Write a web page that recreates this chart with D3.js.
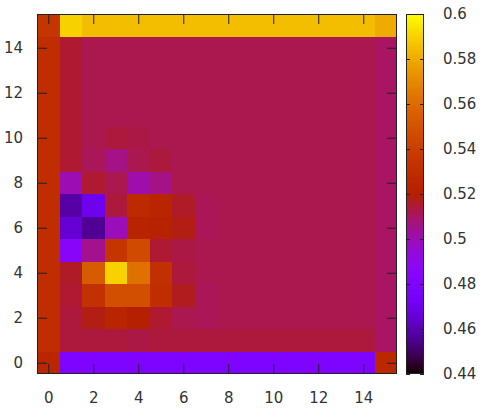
<!DOCTYPE html>
<html><head><meta charset="utf-8">
<script src="https://cdn.jsdelivr.net/npm/d3@7"></script>
<style>body{margin:0;background:#fff}svg{display:block}text{font-family:"DejaVu Sans",sans-serif;font-size:15px;fill:#333}</style>
</head><body>
<svg id="c" width="487" height="415"></svg>
<script>
const xs = d3.range(16);
const ys = d3.range(16);
const B = 0.512;
const row0  = [0.525,0.48,0.48,0.48,0.48,0.48,0.48,0.48,0.48,0.48,0.48,0.48,0.48,0.48,0.48,0.526];
const row1  = [0.530,0.514,0.514,0.514,0.513,0.514,0.514,0.514,0.514,0.514,0.514,0.514,0.514,0.514,0.514,0.510];
const row2  = [0.530,0.514,0.518,0.524,0.520,0.515,0.512,0.511,B,B,B,B,B,B,B,0.510];
const row3  = [0.530,0.515,0.533,0.548,0.548,0.530,0.517,0.511,B,B,B,B,B,B,B,0.510];
const row4  = [0.530,0.516,0.554,0.590,0.562,0.532,0.514,0.512,B,B,B,B,B,B,B,0.510];
const row5  = [0.530,0.485,0.505,0.535,0.546,0.515,0.513,0.512,B,B,B,B,B,B,B,0.510];
const row6  = [0.530,0.465,0.456,0.499,0.523,0.522,0.518,0.511,B,B,B,B,B,B,B,0.510];
const row7  = [0.530,0.458,0.470,0.514,0.528,0.524,0.516,0.511,B,B,B,B,B,B,B,0.510];
const row8  = [0.530,0.500,0.515,0.512,0.501,0.506,0.512,0.512,B,B,B,B,B,B,B,0.510];
const row9  = [0.530,0.515,0.511,0.506,0.512,0.514,0.512,B,B,B,B,B,B,B,B,0.510];
const row10 = [0.530,0.515,0.512,0.514,0.513,0.512,B,B,B,B,B,B,B,B,B,0.510];
const row11 = [0.530,0.515,B,B,B,B,B,B,B,B,B,B,B,B,B,0.510];
const row12 = [0.530,0.515,B,B,B,B,B,B,B,B,B,B,B,B,B,0.510];
const row13 = [0.530,0.515,B,B,B,B,B,B,B,B,B,B,B,B,B,0.510];
const row14 = [0.530,0.515,B,B,B,B,B,B,B,B,B,B,B,B,B,0.510];
const row15 = [0.535,0.590,0.585,0.585,0.585,0.585,0.585,0.585,0.585,0.585,0.585,0.585,0.585,0.585,0.585,0.580];
const rows = [row0,row1,row2,row3,row4,row5,row6,row7,row8,row9,row10,row11,row12,row13,row14,row15];
const xTicks = [0,2,4,6,8,10,12,14];
const yTicks = [0,2,4,6,8,10,12,14];
const cbTicks = [0.44,0.46,0.48,0.5,0.52,0.54,0.56,0.58,0.6];
const cbDomain = [0.44,0.6];

// gnuplot rgbformulae 7,5,15
function gnu(t){
  t = Math.max(0, Math.min(1, t));
  const r = Math.sqrt(t), g = t*t*t, b = Math.max(0, Math.sin(2*Math.PI*t));
  return d3.rgb(Math.round(r*255), Math.round(g*255), Math.round(b*255)).toString();
}
const color = d3.scaleSequential(gnu).domain(cbDomain);

const L=37, R=397, T=14, Bt=374;
const x = d3.scaleLinear().domain([-0.5,15.5]).range([L,R]);
const y = d3.scaleLinear().domain([-0.5,15.5]).range([Bt,T]);
const svg = d3.select("#c");

const cells = [];
ys.forEach(j => xs.forEach(i => cells.push({i, j, v: rows[j][i]})));
svg.append("g").selectAll("rect").data(cells).join("rect")
  .attr("x", d => x(d.i-0.5)).attr("y", d => y(d.j+0.5))
  .attr("width", d => x(d.i+0.5)-x(d.i-0.5)+0.3)
  .attr("height", d => y(d.j-0.5)-y(d.j+0.5)+0.3)
  .attr("fill", d => color(d.v)).attr("shape-rendering","crispEdges");

const tl = 10, stroke = "#222";
// axes
const gb = svg.append("g").attr("transform",`translate(0,${Bt})`)
  .call(d3.axisBottom(x).tickValues(xTicks).tickSize(-tl).tickPadding(18).tickFormat(d3.format("d")));
const gt = svg.append("g").attr("transform",`translate(0,${T})`)
  .call(d3.axisTop(x).tickValues(xTicks).tickSize(-tl).tickFormat(""));
const gl = svg.append("g").attr("transform",`translate(${L},0)`)
  .call(d3.axisLeft(y).tickValues(yTicks).tickSize(-tl).tickPadding(14).tickFormat(d3.format("d")));
const gr = svg.append("g").attr("transform",`translate(${R},0)`)
  .call(d3.axisRight(y).tickValues(yTicks).tickSize(-tl).tickFormat(""));
[gb,gt,gl,gr].forEach(g => {
  g.select(".domain").remove();
  g.selectAll("line").attr("stroke", stroke);
  g.selectAll("text").attr("fill","#333").style("font-size","15px").attr("font-family","DejaVu Sans");
});
svg.append("rect").attr("x",L+0.5).attr("y",T+0.5).attr("width",R-L-1).attr("height",Bt-T-1)
  .attr("fill","none").attr("stroke",stroke);

// colorbar
const CL=406, CR=424;
const cy = d3.scaleLinear().domain(cbDomain).range([Bt,T]);
const defs = svg.append("defs");
const grad = defs.append("linearGradient").attr("id","cb").attr("x1",0).attr("y1",1).attr("x2",0).attr("y2",0);
d3.range(0,1.0001,0.01).forEach(t => grad.append("stop").attr("offset",t)
  .attr("stop-color", color(cbDomain[0]+t*(cbDomain[1]-cbDomain[0]))));
svg.append("rect").attr("x",CL).attr("y",T).attr("width",CR-CL).attr("height",Bt-T).attr("fill","url(#cb)");
const gc = svg.append("g").attr("transform",`translate(${CR},0)`)
  .call(d3.axisRight(cy).tickValues(cbTicks).tickSize(-4).tickPadding(19).tickFormat(d => String(+d.toFixed(2))));
const gc2 = svg.append("g").attr("transform",`translate(${CL},0)`)
  .call(d3.axisLeft(cy).tickValues(cbTicks).tickSize(-4).tickFormat(""));
[gc,gc2].forEach(g => {
  g.select(".domain").remove();
  g.selectAll("line").attr("stroke", stroke);
  g.selectAll("text").attr("fill","#333").style("font-size","15px").attr("text-anchor","start");
});
svg.append("rect").attr("x",CL+0.5).attr("y",T+0.5).attr("width",CR-CL-1).attr("height",Bt-T-1)
  .attr("fill","none").attr("stroke",stroke);
</script>
</body></html>
